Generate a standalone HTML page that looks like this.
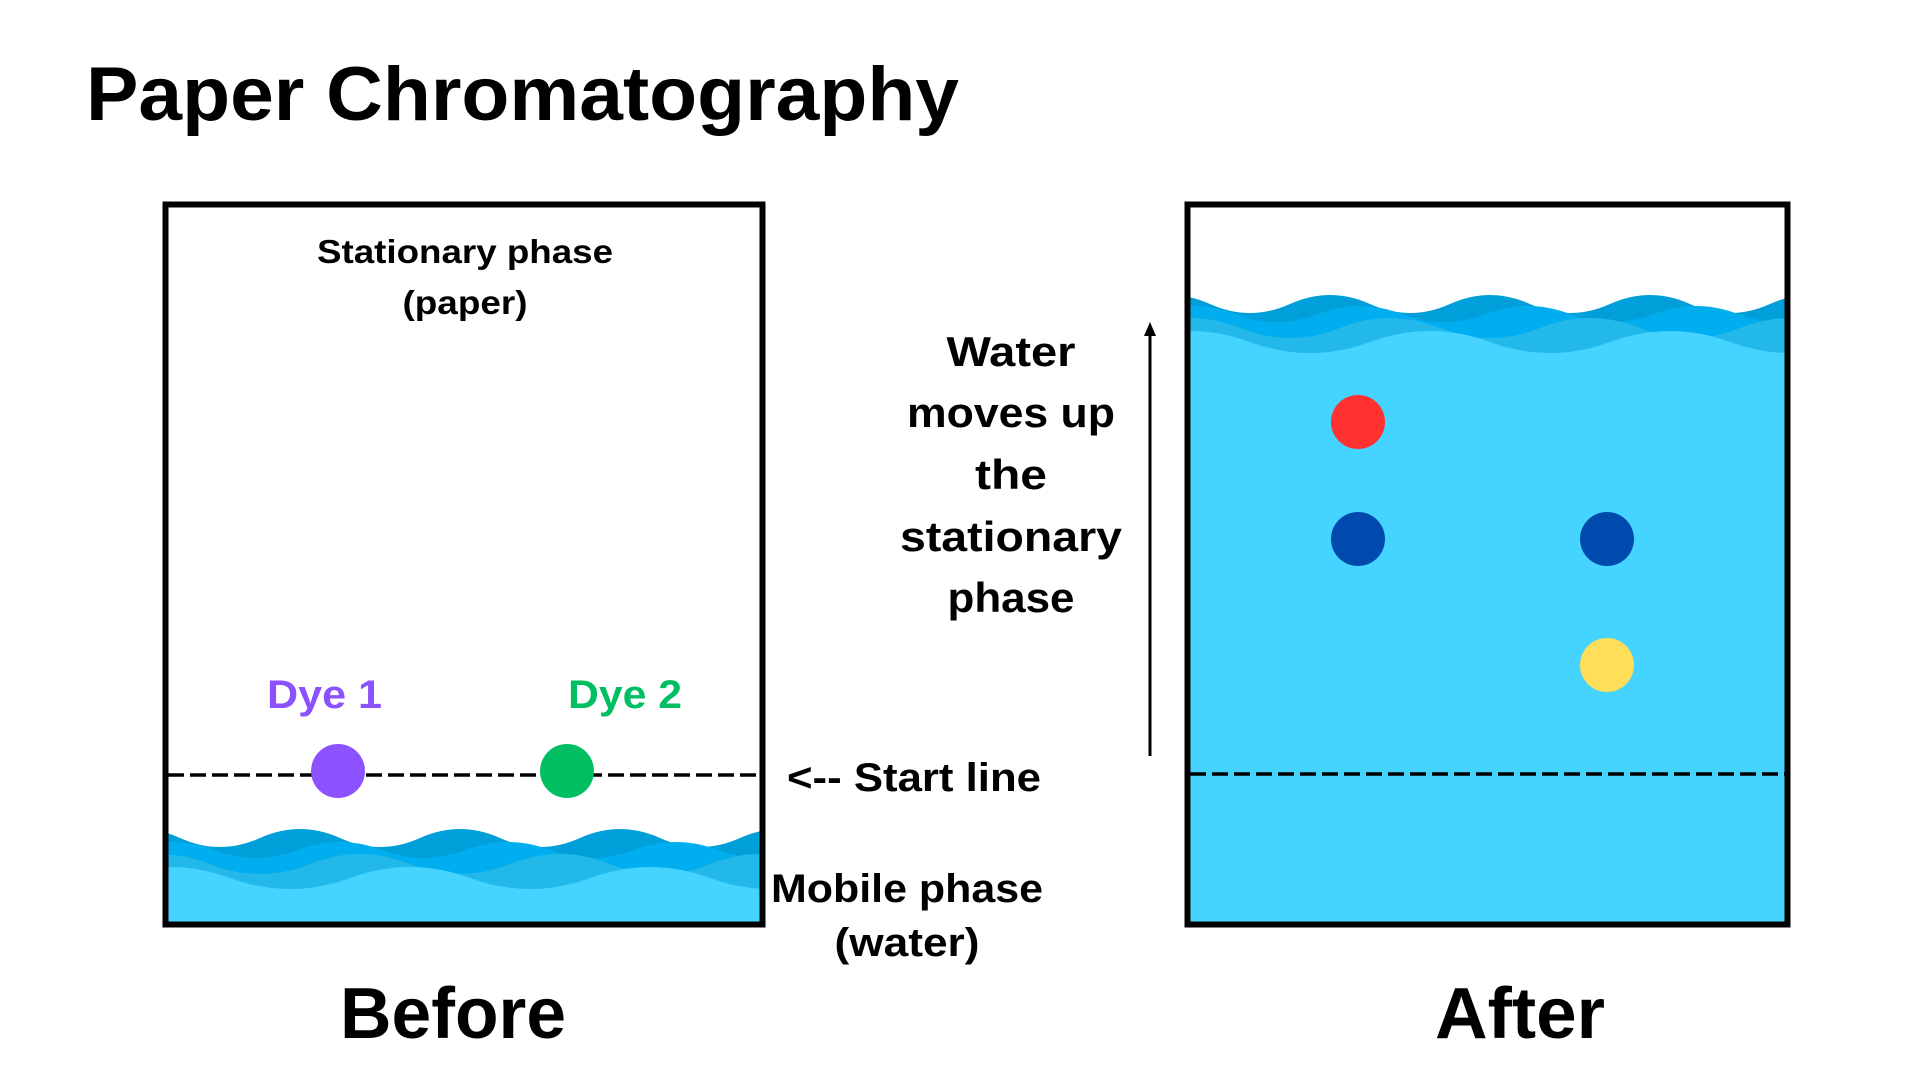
<!DOCTYPE html>
<html><head><meta charset="utf-8"><style>
html,body{margin:0;padding:0;background:#fff;}
svg{display:block;}
text{font-family:"Liberation Sans",sans-serif;font-weight:bold;fill:#000;}
</style></head><body>
<svg width="1920" height="1080" viewBox="0 0 1920 1080" xmlns="http://www.w3.org/2000/svg">
<defs>
<clipPath id="cl"><rect x="166" y="205" width="596" height="719"/></clipPath>
<clipPath id="cr"><rect x="1188" y="205" width="599" height="719"/></clipPath>
</defs>
<rect width="1920" height="1080" fill="#fff"/>
<text x="86" y="120" font-size="76" textLength="873" lengthAdjust="spacingAndGlyphs">Paper Chromatography</text>

<g clip-path="url(#cl)">
<path d="M100 838 Q140 820 180 838 T260 838 T340 838 T420 838 T500 838 T580 838 T660 838 T740 838 T820 838 L820 930 L100 930 Z" fill="#009fd9"/>
<path d="M130 850 Q172 834 214 850 T298 850 T382 850 T466 850 T550 850 T634 850 T718 850 T802 850 L820 930 L100 930 Z" fill="#00aeef"/>
<path d="M110 864 Q160 844 210 864 T310 864 T410 864 T510 864 T610 864 T710 864 T810 864 L820 930 L100 930 Z" fill="#22b8ea"/>
<path d="M110 878 Q170 856 230 878 T350 878 T470 878 T590 878 T710 878 T830 878 L830 930 L100 930 Z" fill="#45d3ff"/>
</g>
<line x1="168" y1="775" x2="762" y2="775" stroke="#000" stroke-width="3.5" stroke-dasharray="16,6"/>
<circle cx="338" cy="771" r="27" fill="#8c52ff"/>
<circle cx="567" cy="771" r="27" fill="#00bf63"/>
<rect x="165.5" y="204.5" width="597" height="720" fill="none" stroke="#000" stroke-width="6"/>

<g clip-path="url(#cr)">
<path d="M1130 304 Q1170 286 1210 304 T1290 304 T1370 304 T1450 304 T1530 304 T1610 304 T1690 304 T1770 304 T1850 304 L1850 930 L1130 930 Z" fill="#009fd9"/>
<path d="M1150 314 Q1192 298 1234 314 T1318 314 T1402 314 T1486 314 T1570 314 T1654 314 T1738 314 T1822 314 L1850 930 L1130 930 Z" fill="#00aeef"/>
<path d="M1140 328 Q1190 308 1240 328 T1340 328 T1440 328 T1540 328 T1640 328 T1740 328 T1840 328 L1850 930 L1130 930 Z" fill="#22b8ea"/>
<path d="M1130 342 Q1190 320 1250 342 T1370 342 T1490 342 T1610 342 T1730 342 T1850 342 L1850 930 L1130 930 Z" fill="#45d3ff"/>
</g>
<line x1="1190" y1="774" x2="1787" y2="774" stroke="#000" stroke-width="3.5" stroke-dasharray="16,6"/>
<circle cx="1358" cy="422" r="27" fill="#ff3131"/>
<circle cx="1358" cy="539" r="27" fill="#004aad"/>
<circle cx="1607" cy="539" r="27" fill="#004aad"/>
<circle cx="1607" cy="665" r="27" fill="#ffde59"/>
<rect x="1187.5" y="204.5" width="600" height="720" fill="none" stroke="#000" stroke-width="6"/>

<line x1="1150" y1="756" x2="1150" y2="334" stroke="#000" stroke-width="3"/>
<path d="M1150 322 L1144 336 L1156 336 Z" fill="#000"/>

<text x="465" y="263" font-size="33" text-anchor="middle" textLength="296" lengthAdjust="spacingAndGlyphs">Stationary phase</text>
<text x="465" y="314" font-size="33" text-anchor="middle" textLength="125" lengthAdjust="spacingAndGlyphs">(paper)</text>
<text x="267" y="708" font-size="40" textLength="115" lengthAdjust="spacingAndGlyphs" style="fill:#8c52ff">Dye 1</text>
<text x="568" y="708" font-size="40" textLength="114" lengthAdjust="spacingAndGlyphs" style="fill:#00bf63">Dye 2</text>
<text x="787" y="791" font-size="40" textLength="254" lengthAdjust="spacingAndGlyphs">&lt;-- Start line</text>
<text x="771" y="902" font-size="40" textLength="272" lengthAdjust="spacingAndGlyphs">Mobile phase</text>
<text x="907" y="956" font-size="40" text-anchor="middle" textLength="145" lengthAdjust="spacingAndGlyphs">(water)</text>
<text x="1011" y="366" font-size="42" text-anchor="middle" textLength="129" lengthAdjust="spacingAndGlyphs">Water</text>
<text x="1011" y="427" font-size="42" text-anchor="middle" textLength="208" lengthAdjust="spacingAndGlyphs">moves up</text>
<text x="1011" y="489" font-size="42" text-anchor="middle" textLength="72" lengthAdjust="spacingAndGlyphs">the</text>
<text x="1011" y="551" font-size="42" text-anchor="middle" textLength="222" lengthAdjust="spacingAndGlyphs">stationary</text>
<text x="1011" y="612" font-size="42" text-anchor="middle" textLength="127" lengthAdjust="spacingAndGlyphs">phase</text>
<text x="340" y="1038" font-size="72" textLength="226" lengthAdjust="spacingAndGlyphs">Before</text>
<text x="1435" y="1038" font-size="72" textLength="170" lengthAdjust="spacingAndGlyphs">After</text>
</svg>
</body></html>
